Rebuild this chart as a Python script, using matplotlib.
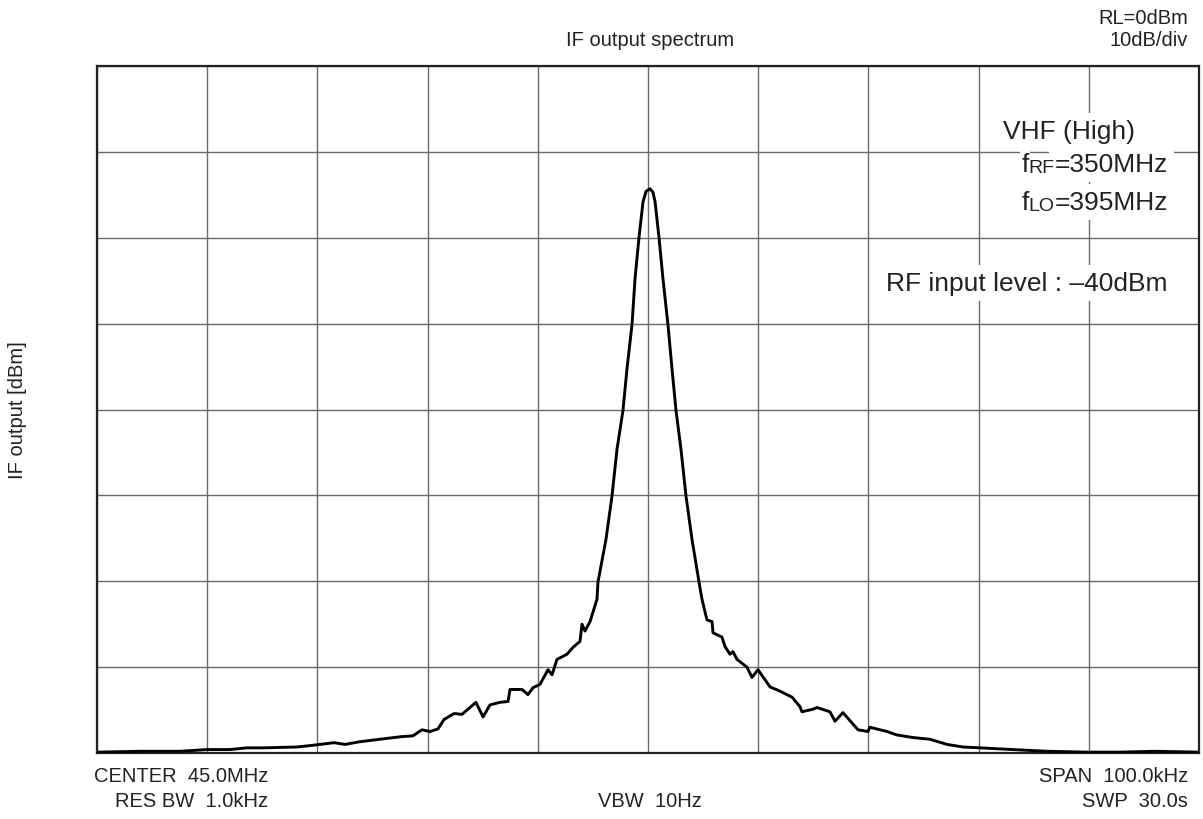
import matplotlib
matplotlib.use("Agg")
import matplotlib.pyplot as plt

plt.rcParams['font.family'] = ['Liberation Sans', 'DejaVu Sans']

# Frequency offset from center (kHz) and IF output level (dBm)
freq_khz = [-50.0, -46.0, -42.47, -40.02, -37.93, -36.4, -34.94, -31.85, -30.40, -28.49, -27.49,
            -26.22, -24.32, -22.41, -21.33, -20.51, -19.78, -19.06, -18.51, -17.60, -16.88,
            -15.61, -14.97, -14.34, -13.43, -12.70, -12.52, -11.43, -10.89, -10.44,
            -9.80, -9.07, -8.71, -8.26, -7.35, -6.81, -6.17, -5.99, -5.72, -5.26,
            -4.63, -4.54, -3.81, -3.27, -2.81, -2.27, -1.91, -1.45, -1.18, -0.82,
            -0.45, -0.18, 0.18, 0.45, 0.64, 1.00, 1.36, 1.81, 2.18, 2.54, 2.99,
            3.45, 3.99, 4.63, 4.90, 5.35, 5.81, 5.90, 6.71, 6.99, 7.44, 7.71, 8.08,
            8.98, 9.44, 9.98, 11.07, 11.98, 13.07, 13.79, 13.97, 14.97, 15.34, 16.51, 16.97,
            17.69, 19.06, 19.96, 20.14, 21.05, 21.69, 22.59, 24.05, 25.59, 27.13,
            28.58, 30.13, 33.12, 36.21, 39.84, 42.83, 46.0, 50.0]
level_dbm = [-79.9, -79.8, -79.8, -79.6, -79.6, -79.4, -79.4, -79.3, -79.1, -78.8, -79.0,
             -78.7, -78.4, -78.1, -78.0, -77.3, -77.5, -77.2, -76.1, -75.4, -75.5,
             -74.1, -75.8, -74.4, -74.1, -74.0, -72.6, -72.6, -73.2, -72.4,
             -72.0, -70.3, -70.9, -69.1, -68.5, -67.7, -67.0, -65.0, -65.8, -64.7,
             -62.1, -60.1, -55.1, -50.1, -44.6, -40.1, -35.3, -30.1, -24.8, -20.0,
             -15.8, -14.6, -14.3, -14.7, -15.8, -20.0, -24.8, -30.1, -35.3, -40.1, -44.6,
             -50.1, -55.1, -60.1, -62.1, -64.5, -64.7, -66.0, -66.5, -67.6, -68.5, -68.2, -69.1,
             -70.0, -71.2, -70.3, -72.3, -72.8, -73.5, -74.6, -75.2, -74.9, -74.7, -75.2, -76.3,
             -75.3, -77.3, -77.5, -77.0, -77.3, -77.5, -77.9, -78.2, -78.4, -79.0,
             -79.3, -79.4, -79.6, -79.8, -79.9, -79.9, -79.8, -79.9]

xlim = (-50, 50)
ylim = (-80, 0)
x_step = 10
y_step = 10

fig = plt.figure(figsize=(12.03, 8.2), dpi=100)
ax = fig.add_axes([97/1203, 1-754/820, (1199-97)/1203, (754-67)/820])

ax.plot(freq_khz, level_dbm, color='black', lw=2.1, solid_joinstyle='round', zorder=3)
ax.set_xlim(*xlim)
ax.set_ylim(*ylim)
ax.set_xticks([xlim[0] + i*x_step for i in range(11)])
ax.set_yticks([ylim[0] + i*y_step for i in range(9)])
ax.tick_params(length=0, labelbottom=False, labelleft=False)
ax.grid(True, color='#6a6a6a', lw=1.0)
ax.set_axisbelow(True)
for s in ax.spines.values():
    s.set_linewidth(1.6)
    s.set_color('#222222')

fs_out = 14.5
fig.text(0.5403, 1-40/820, 'IF output spectrum', ha='center', va='center', fontsize=fs_out, color='#222222')
fig.text(1188/1203, 1-18/820, 'RL=0dBm', ha='right', va='center', fontsize=fs_out, color='#222222')
fig.text(1188/1203, 1-40/820, '10dB/div', ha='right', va='center', fontsize=fs_out, color='#222222')
fig.text(18/1203, 0.5, 'IF output [dBm]', rotation=90, ha='center', va='center', fontsize=fs_out, color='#222222')
fig.text(268/1203, 1-777/820, 'CENTER  45.0MHz', ha='right', va='center', fontsize=fs_out, color='#222222')
fig.text(268/1203, 1-802/820, 'RES BW  1.0kHz', ha='right', va='center', fontsize=fs_out, color='#222222')
fig.text(650/1203, 1-802/820, 'VBW  10Hz', ha='center', va='center', fontsize=fs_out, color='#222222')
fig.text(1188/1203, 1-777/820, 'SPAN  100.0kHz', ha='right', va='center', fontsize=fs_out, color='#222222')
fig.text(1188/1203, 1-802/820, 'SWP  30.0s', ha='right', va='center', fontsize=fs_out, color='#222222')

fs_in = 19
fs_sub = 14
bb = dict(facecolor='white', edgecolor='none', pad=4)
ax.text(0.942, (754-132)/687, 'VHF (High)', ha='right', va='center', fontsize=fs_in,
        color='#222222', transform=ax.transAxes, bbox=bb, zorder=5)
for ypix, sub, rest in [(165, 'RF', '=350MHz'), (203, 'LO', '=395MHz')]:
    t_rest = ax.text(0.9719, (754-ypix)/687, rest, ha='right', va='center', fontsize=fs_in,
                     color='#222222', transform=ax.transAxes, bbox=bb, zorder=5)
    t_sub = ax.annotate(sub, xy=(0, 0), xycoords=t_rest, ha='right', va='bottom',
                        fontsize=fs_sub, color='#222222', bbox=dict(facecolor='white', edgecolor='none', pad=1), zorder=6)
    ax.annotate('f', xy=(0, 0), xycoords=t_sub, ha='right', va='bottom',
                fontsize=fs_in, color='#222222', bbox=dict(facecolor='white', edgecolor='none', pad=1), zorder=6)
ax.text(0.9710, (754-284)/687, 'RF input level : \u201340dBm', ha='right', va='center',
        fontsize=fs_in, color='#222222', transform=ax.transAxes, bbox=bb, zorder=5)

fig.savefig('out.png', dpi=100)
